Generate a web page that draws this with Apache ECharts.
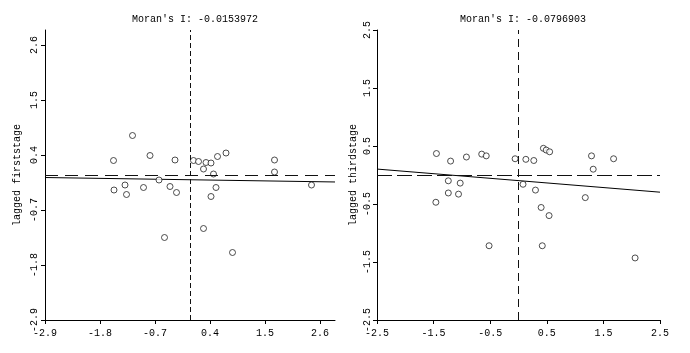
<!DOCTYPE html>
<html>
<head>
<meta charset="utf-8">
<script src="https://cdn.jsdelivr.net/npm/echarts@6/dist/echarts.min.js"></script>
<style>
html,body{margin:0;padding:0;background:#fff;}
#c{width:690px;height:353px;}
</style>
</head>
<body>
<div id="c"></div>
<script>
// Left panel: firststage
const leftTitle = "Moran's I: -0.0153972";
const leftYName = "lagged firststage";
const leftTicks = [-2.9, -1.8, -0.7, 0.4, 1.5, 2.6];
const leftX = [-1.53,-1.15,-0.80,-0.30,0.07,0.17,0.32,0.42,0.55,0.72,0.27,0.47,1.69,1.69,2.43,-1.52,-1.30,-1.27,-0.93,-0.62,-0.40,-0.27,0.52,0.42,0.27,-0.51,0.85];
const leftY = [0.29,0.79,0.39,0.30,0.29,0.27,0.25,0.24,0.37,0.44,0.12,0.02,0.30,0.06,-0.20,-0.30,-0.20,-0.39,-0.25,-0.10,-0.23,-0.35,-0.25,-0.43,-1.07,-1.25,-1.55];
const leftSlope = -0.0153972;
const leftIntercept = -0.095;

// Right panel: thirdstage
const rightTitle = "Moran's I: -0.0796903";
const rightYName = "lagged thirdstage";
const rightTicks = [-2.5, -1.5, -0.5, 0.5, 1.5, 2.5];
const rightX = [-1.45,-1.20,-0.92,-0.65,-0.57,-0.06,0.13,0.27,0.44,0.49,0.55,1.29,1.68,1.32,-1.24,-1.03,-1.24,-1.06,-1.46,0.08,0.30,1.18,0.40,0.54,-0.52,0.42,2.06];
const rightY = [0.37,0.24,0.31,0.36,0.33,0.28,0.27,0.25,0.46,0.43,0.40,0.33,0.28,0.10,-0.10,-0.14,-0.31,-0.33,-0.47,-0.16,-0.26,-0.39,-0.56,-0.70,-1.22,-1.22,-1.43];
const rightSlope = -0.0796903;
const rightIntercept = -0.097;

const FONT = 'Liberation Mono';
const FS = 10;
const chart = echarts.init(document.getElementById('c'), null, {renderer:'canvas'});

function xAxis(gi, ticks, min, max){
  return {
    type:'value', gridIndex:gi, min:min, max:max,
    axisLine:{show:true, onZero:false, lineStyle:{color:'#000', width:1}},
    axisTick:{show:true, length:4, inside:false, customValues:ticks, lineStyle:{color:'#000'}},
    axisLabel:{show:true, customValues:ticks, formatter:v=>v.toFixed(1), color:'#000', fontFamily:FONT, fontSize:FS, margin:8},
    splitLine:{show:false}
  };
}
function yAxis(gi, ticks, min, max, name, nameGap, labMargin){
  return {
    type:'value', gridIndex:gi, min:min, max:max,
    name:name, nameLocation:'middle', nameGap:nameGap, nameRotate:90,
    nameTextStyle:{color:'#000', fontFamily:FONT, fontSize:FS},
    axisLine:{show:true, onZero:false, lineStyle:{color:'#000', width:1}},
    axisTick:{show:true, length:4, inside:false, customValues:ticks, lineStyle:{color:'#000'}},
    axisLabel:{show:true, customValues:ticks, rotate:90, formatter:v=>v.toFixed(1), color:'#000', fontFamily:FONT, fontSize:FS, margin:labMargin},
    splitLine:{show:false}
  };
}
function pts(xs, ys){ return xs.map((x,i)=>[x, ys[i]]); }
function regLine(a, b, min, max){ return [[min, a + b*min], [max, a + b*max]]; }

function scatter(gi, data, vDash, hDash){
  return {
    type:'scatter', xAxisIndex:gi, yAxisIndex:gi, data:data,
    symbol:'circle', symbolSize:6,
    itemStyle:{color:'#fff', borderColor:'#222', borderWidth:1},
    emphasis:{disabled:true}, silent:true, z:3,
    markLine:{
      silent:true, symbol:['none','none'], label:{show:false}, animation:false,
      data:[
        {xAxis:0, lineStyle:{color:'#111', width:1, type:vDash}},
        {yAxis:0, lineStyle:{color:'#111', width:1, type:hDash}}
      ]
    }
  };
}
function line(gi, data){
  return {
    type:'line', xAxisIndex:gi, yAxisIndex:gi, data:data, symbol:'none',
    lineStyle:{color:'#000', width:1}, silent:true, z:2
  };
}

chart.setOption({
  animation:false,
  backgroundColor:'#fff',
  title:[
    {text:leftTitle, left:190, top:9, textAlign:'center', textStyle:{fontFamily:FONT, fontSize:FS, fontWeight:'normal', color:'#000'}},
    {text:rightTitle, left:518, top:9, textAlign:'center', textStyle:{fontFamily:FONT, fontSize:FS, fontWeight:'normal', color:'#000'}}
  ],
  grid:[
    {left:45, top:30, width:290, height:290, containLabel:false},
    {left:377, top:30, width:283, height:290, containLabel:false}
  ],
  xAxis:[xAxis(0, leftTicks, -2.9, 2.9), xAxis(1, rightTicks, -2.5, 2.5)],
  yAxis:[yAxis(0, leftTicks, -2.9, 2.9, leftYName, 23, 6), yAxis(1, rightTicks, -2.5, 2.5, rightYName, 19, 5)],
  series:[
    scatter(0, pts(leftX, leftY), [5,3], [13,7]),
    line(0, regLine(leftIntercept, leftSlope, -2.9, 2.9)),
    scatter(1, pts(rightX, rightY), [8,5], [15,5]),
    line(1, regLine(rightIntercept, rightSlope, -2.5, 2.5))
  ]
});
</script>
</body>
</html>
